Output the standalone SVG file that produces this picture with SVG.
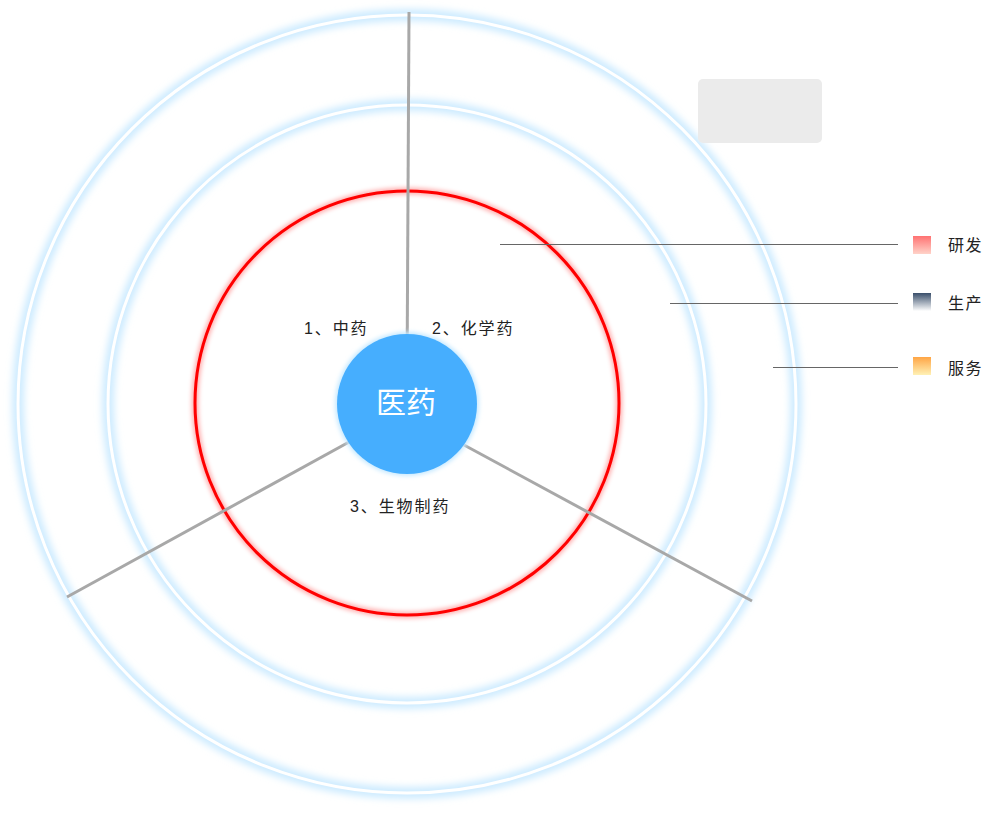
<svg xmlns="http://www.w3.org/2000/svg" width="984" height="814" viewBox="0 0 984 814">
  <defs>
    <style>
      .lbl { font-family: "Liberation Sans", "Noto Sans CJK SC", sans-serif; font-size: 16px; letter-spacing: 1.9px; fill: #222; }
      .leg { font-family: "Liberation Sans", "Noto Sans CJK SC", sans-serif; font-size: 16px; letter-spacing: 1.5px; fill: #222; }
      .ringGlow { fill: none; stroke: #cdebff; stroke-width: 12; filter: url(#blur4); }
      .ring { fill: none; stroke: #ffffff; stroke-width: 3; }
      .spoke { stroke: #a8a8a8; stroke-width: 3; fill: none; }
      .legline { stroke: #666; stroke-width: 1; fill: none; }
    </style>
    <filter id="blur4" x="-10%" y="-10%" width="120%" height="120%">
      <feGaussianBlur stdDeviation="3.5"/>
    </filter>
    <filter id="blur2" x="-10%" y="-10%" width="120%" height="120%">
      <feGaussianBlur stdDeviation="2"/>
    </filter>
    <linearGradient id="gRed" x1="0" y1="0" x2="0" y2="1">
      <stop offset="0" stop-color="#ff7272"/>
      <stop offset="1" stop-color="#ffd3c9"/>
    </linearGradient>
    <linearGradient id="gNavy" x1="0" y1="0" x2="0" y2="1">
      <stop offset="0" stop-color="#3a4f6b"/>
      <stop offset="1" stop-color="#ffffff"/>
    </linearGradient>
    <linearGradient id="gOrange" x1="0" y1="0" x2="0" y2="1">
      <stop offset="0" stop-color="#ffa545"/>
      <stop offset="1" stop-color="#fff1b5"/>
    </linearGradient>
  </defs>

  <rect width="984" height="814" fill="#ffffff"/>

  <g id="ring-outer">
    <circle class="ringGlow" cx="407" cy="404" r="389"/>
    <circle class="ring" cx="407" cy="404" r="389"/>
  </g>
  <g id="ring-middle">
    <circle class="ringGlow" cx="407" cy="404" r="299"/>
    <circle class="ring" cx="407" cy="404" r="299"/>
  </g>
  <g id="ring-red">
    <circle cx="407" cy="403" r="212" fill="none" stroke="#ff0000" stroke-opacity="0.3" stroke-width="7" filter="url(#blur2)"/>
    <circle cx="407" cy="403" r="212" fill="none" stroke="#ff0000" stroke-width="3"/>
  </g>

  <g id="connectors">
    <line class="spoke" x1="409" y1="12" x2="407" y2="380"/>
    <line class="spoke" x1="67" y1="597" x2="380" y2="425"/>
    <line class="spoke" x1="752" y1="601" x2="440" y2="432"/>
    <line class="legline" x1="500" y1="244.5" x2="898" y2="244.5"/>
    <line class="legline" x1="670" y1="303.5" x2="898" y2="303.5"/>
    <line class="legline" x1="773" y1="367.5" x2="898" y2="367.5"/>
  </g>

  <g id="center">
    <circle cx="407" cy="404" r="72" fill="#c6e9ff" filter="url(#blur2)"/>
    <circle cx="407" cy="404" r="70" fill="#46aefe"/>
    <text x="406" y="413" text-anchor="middle" font-family="'Liberation Sans', 'Noto Sans CJK SC', sans-serif" font-size="30" fill="#ffffff">医药</text>
  </g>

  <g id="seg-1">
    <text class="lbl" x="304" y="334">1、中药</text>
  </g>
  <g id="seg-2">
    <text class="lbl" x="432" y="334">2、化学药</text>
  </g>
  <g id="seg-3">
    <text class="lbl" x="350" y="512">3、生物制药</text>
  </g>

  <g id="placeholder">
    <rect x="698" y="79" width="124" height="64" rx="5" fill="#ebebeb"/>
  </g>

  <g id="legend-yanfa">
    <rect x="913" y="236" width="18" height="18" fill="url(#gRed)"/>
    <text class="leg" x="948" y="251">研发</text>
  </g>
  <g id="legend-shengchan">
    <rect x="913" y="293" width="18" height="18" fill="url(#gNavy)"/>
    <text class="leg" x="948" y="309">生产</text>
  </g>
  <g id="legend-fuwu">
    <rect x="913" y="357" width="18" height="18" fill="url(#gOrange)"/>
    <text class="leg" x="948" y="374">服务</text>
  </g>
</svg>
